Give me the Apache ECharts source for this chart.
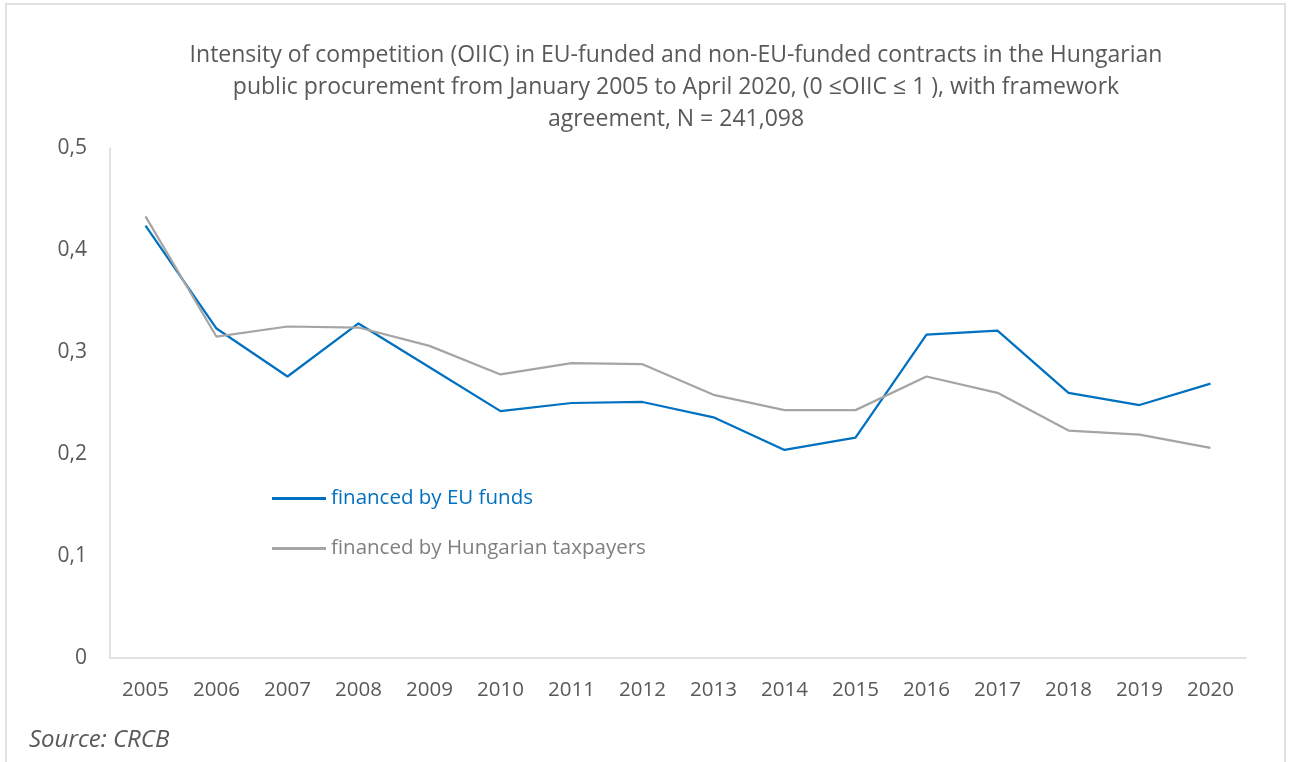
<!DOCTYPE html>
<html>
<head>
<meta charset="utf-8">
<script src="https://cdn.jsdelivr.net/npm/echarts@6/dist/echarts.min.js"></script>
<style>
  html, body { margin: 0; padding: 0; background: #fff; }
  #chart { width: 1297px; height: 762px; }
</style>
</head>
<body>
<div id="chart"></div>
<script>
  // years on the x axis
  var years = ['2005', '2006', '2007', '2008', '2009', '2010', '2011', '2012',
               '2013', '2014', '2015', '2016', '2017', '2018', '2019', '2020'];

  // OIIC, financed by EU funds
  var euFunds = [0.424, 0.323, 0.276, 0.328, 0.285, 0.242, 0.250, 0.251,
                 0.236, 0.204, 0.216, 0.317, 0.321, 0.260, 0.248, 0.269];

  // OIIC, financed by Hungarian taxpayers
  var huTaxpayers = [0.433, 0.315, 0.325, 0.324, 0.306, 0.278, 0.289, 0.288,
                     0.258, 0.243, 0.243, 0.276, 0.260, 0.223, 0.219, 0.206];

  var yTicks = [0, 0.1, 0.2, 0.3, 0.4, 0.5];

  var textGrey = '#595959',
      lineGrey = '#d9d9d9',
      font = '"Open Sans"';

  var chart = echarts.init(document.getElementById('chart'));

  chart.setOption({
    animation: false,
    textStyle: { fontFamily: font },
    title: {
      text: 'Intensity of competition (OIIC) in EU-funded and non-EU-funded contracts in the Hungarian\n' +
            'public procurement from January 2005 to April 2020, (0 ≤OIIC ≤ 1 ), with framework\n' +
            'agreement, N = 241,098',
      left: 671,
      top: 34,
      textAlign: 'center',
      textStyle: { color: textGrey, fontSize: 23, fontWeight: 'normal', lineHeight: 32, fontFamily: font }
    },
    legend: {
      orient: 'vertical',
      left: 267,
      top: 483,
      itemWidth: 54,
      itemHeight: 3,
      itemGap: 29,
      icon: 'rect',
      textStyle: { fontSize: 20.5, fontFamily: font },
      data: [
        { name: 'financed by EU funds', textStyle: { color: '#0070C0' } },
        { name: 'financed by Hungarian taxpayers', textStyle: { color: '#7f7f7f' } }
      ]
    },
    grid: { left: 110, right: 51, top: 148, bottom: 104 },
    xAxis: {
      type: 'category',
      data: years,
      boundaryGap: true,
      axisLine: { lineStyle: { color: lineGrey, width: 1.5 } },
      axisTick: { show: false },
      axisLabel: { color: textGrey, fontSize: 20.5, margin: 22, fontFamily: font }
    },
    yAxis: {
      type: 'value',
      min: yTicks[0],
      max: yTicks[yTicks.length - 1],
      interval: 0.1,
      axisLine: { show: true, lineStyle: { color: lineGrey, width: 1.5 } },
      axisTick: { show: false },
      splitLine: { show: false },
      axisLabel: {
        color: textGrey, fontSize: 21, margin: 23, fontFamily: font,
        formatter: function (v) { return String(Math.round(v * 10) / 10).replace('.', ','); }
      }
    },
    series: [
      {
        name: 'financed by EU funds',
        type: 'line',
        data: euFunds,
        symbol: 'none',
        itemStyle: { color: '#0070C0' },
        lineStyle: { color: '#0070C0', width: 2.25 }
      },
      {
        name: 'financed by Hungarian taxpayers',
        type: 'line',
        data: huTaxpayers,
        symbol: 'none',
        itemStyle: { color: '#A5A5A5' },
        lineStyle: { color: '#A5A5A5', width: 2.25 }
      }
    ],
    graphic: [
      {
        type: 'rect',
        shape: { x: 6, y: 4, width: 1279, height: 780 },
        style: { fill: null, stroke: '#d9d9d9', lineWidth: 1.5 },
        silent: true
      },
      {
        type: 'text',
        left: 29,
        top: 728,
        style: { text: 'Source: CRCB', fill: textGrey, fontSize: 24, fontStyle: 'italic', fontFamily: font }
      }
    ]
  });
</script>
</body>
</html>
